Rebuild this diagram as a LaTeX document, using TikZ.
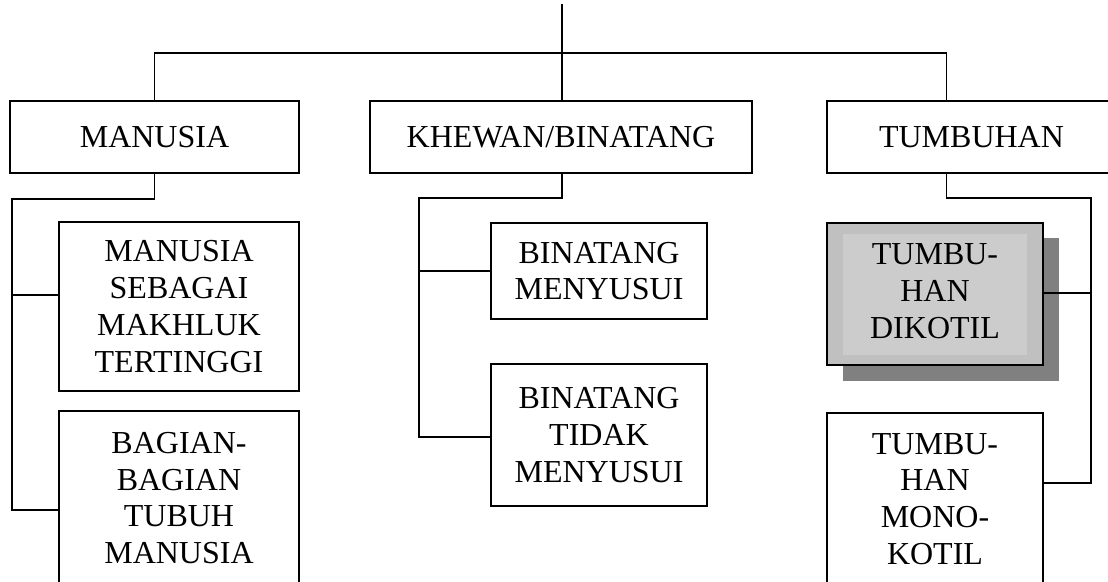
\documentclass[tikz,border=0pt]{standalone}
\usepackage{fontspec}
\setmainfont{Liberation Serif}
\definecolor{shadowgray}{HTML}{808080}
\definecolor{boxgray}{HTML}{C0C0C0}
\definecolor{innergray}{HTML}{CCCCCC}
\tikzset{
  box/.style={draw, line width=1.4pt, rectangle, inner sep=0pt, align=center,
    font=\fontsize{32}{36.8}\selectfont},
  link/.style={line width=1.4pt}
}
\begin{document}
\begin{tikzpicture}[x=1pt,y=1pt]
\useasboundingbox (0,0) rectangle (1108,-581);
\clip (0,0) rectangle (1108,-581);
\fill[white] (0,0) rectangle (1108,-581);
% top row
\node[box, minimum width=289pt, minimum height=72pt] (man) at (154.5,-137) {MANUSIA};
\node[box, minimum width=382pt, minimum height=72pt] (kh) at (561,-137) {KHEWAN/BINATANG};
\node[box, minimum width=289pt, minimum height=72pt] (tum) at (971.5,-137) {TUMBUHAN};
% manusia children
\node[box, minimum width=240pt, minimum height=169pt] (seb) at (179,-306.5) {MANUSIA\\SEBAGAI\\MAKHLUK\\TERTINGGI};
\node[box, minimum width=240pt, minimum height=174pt] (bag) at (179,-498) {BAGIAN-\\BAGIAN\\TUBUH\\MANUSIA};
% khewan children
\node[box, minimum width=216pt, minimum height=96pt] (mny) at (599,-271) {BINATANG\\MENYUSUI};
\node[box, minimum width=216pt, minimum height=142pt] (tdk) at (599,-435) {BINATANG\\TIDAK\\MENYUSUI};
% tumbuhan children
\fill[shadowgray] (843,-238) rectangle (1059,-381);
\node[box, fill=boxgray, minimum width=216pt, minimum height=142pt] (dik) at (935,-294) {};
\fill[innergray] (843,-234) rectangle (1027,-355);
\node[align=center, inner sep=0pt, font=\fontsize{32}{36.8}\selectfont] (dikt) at (935,-291) {TUMBU-\\HAN\\DIKOTIL};
\node[box, minimum width=216pt, minimum height=172pt] (mono) at (935,-499) {TUMBU-\\HAN\\MONO-\\KOTIL};
% connector coordinates
\coordinate (top) at (562,-4);
\coordinate (mj) at (154.5,-53);
\coordinate (tj) at (946.7,-53);
\coordinate (mr1) at (154.5,-199);
\coordinate (mr2) at (12,-199);
\coordinate (mr3) at (12,-510);
\coordinate (kr1) at (562,-198);
\coordinate (kr2) at (419,-198);
\coordinate (kr3) at (419,-437);
\coordinate (tr0) at (946.7,-173);
\coordinate (tr1) at (946.7,-198);
\coordinate (tr2) at (1091,-198);
\coordinate (tr3) at (1091,-483);
% connectors
\draw[link] (top) -- (top |- kh.north);
\draw[link] (man.north) -- (mj) -- (tj) -- (tj |- tum.north);
\draw[link] (man.south) -- (mr1) -- (mr2) -- (mr3) -- (mr3 -| bag.west);
\draw[link] (12,-295) -- (seb.west |- 0,-295);
\draw[link] (kr1 |- kh.south) -- (kr1) -- (kr2) -- (kr3) -- (kr3 -| tdk.west);
\draw[link] (419,-271) -- (mny.west);
\draw[link] (tr0) -- (tr1) -- (tr2) -- (tr3) -- (tr3 -| mono.east);
\draw[link] (1091,-293) -- (dik.east |- 0,-293);
\end{tikzpicture}
\end{document}
